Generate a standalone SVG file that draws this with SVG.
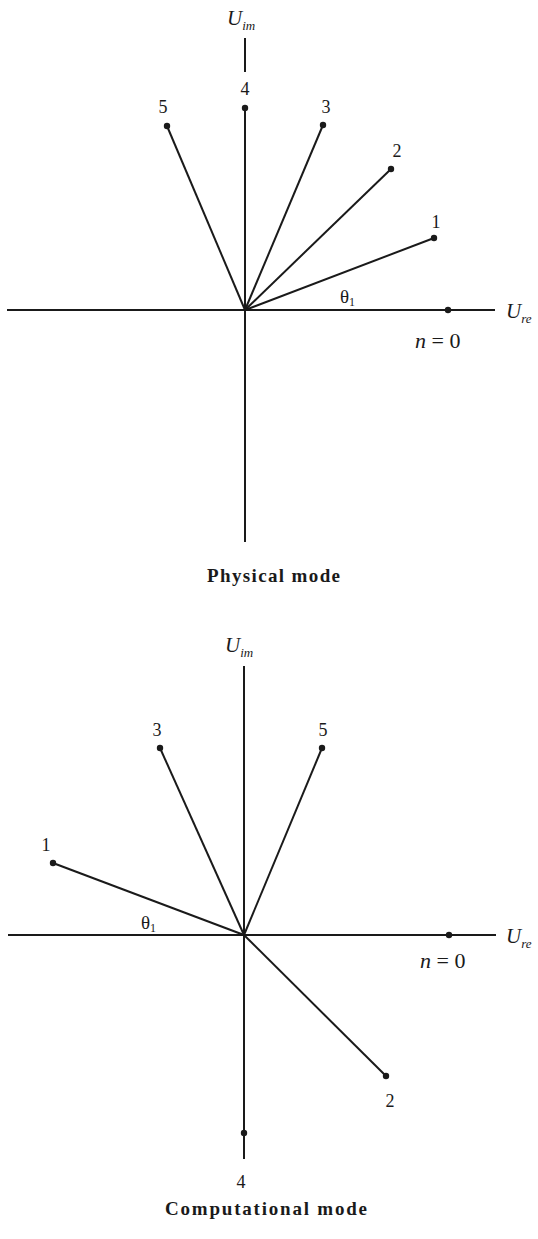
<svg xmlns="http://www.w3.org/2000/svg" width="538" height="1239" viewBox="0 0 538 1239">
<style>
.ax{stroke:#1a1a1a;stroke-width:2;fill:none}
.dot{fill:#1a1a1a}
.num{font-family:"Liberation Serif",serif;font-size:18px;fill:#1a1a1a}
.lab{font-family:"Liberation Serif",serif;font-style:italic;fill:#1a1a1a}
.th{font-family:"Liberation Serif",serif;font-size:19px;fill:#1a1a1a}
.cap{font-family:"Liberation Serif",serif;font-weight:bold;font-size:19px;fill:#1a1a1a}
</style>
<rect width="538" height="1239" fill="#fff"/>
<!-- Top: Physical mode -->
<g id="physical-axes" class="ax">
<line x1="7" y1="310" x2="495" y2="310"/>
<line x1="245" y1="108" x2="245" y2="542"/>
<line x1="245" y1="38" x2="245" y2="72"/>
</g>
<g id="physical-rays" class="ax">
<line x1="245" y1="310" x2="434" y2="238"/>
<line x1="245" y1="310" x2="391" y2="169"/>
<line x1="245" y1="310" x2="323" y2="125"/>
<line x1="245" y1="310" x2="167" y2="126"/>
</g>
<g id="p-n0"><circle class="dot" cx="448" cy="310" r="3.2"/><text class="lab" x="415" y="348" font-size="22">n <tspan font-style="normal">= 0</tspan></text></g>
<g id="p-n1"><circle class="dot" cx="434" cy="238" r="3.2"/><text class="num" x="436" y="228" text-anchor="middle">1</text></g>
<g id="p-n2"><circle class="dot" cx="391" cy="169" r="3.2"/><text class="num" x="397" y="157" text-anchor="middle">2</text></g>
<g id="p-n3"><circle class="dot" cx="323" cy="125" r="3.2"/><text class="num" x="326" y="113" text-anchor="middle">3</text></g>
<g id="p-n4"><circle class="dot" cx="245" cy="108" r="3.2"/><text class="num" x="245" y="95" text-anchor="middle">4</text></g>
<g id="p-n5"><circle class="dot" cx="167" cy="126" r="3.2"/><text class="num" x="163" y="113" text-anchor="middle">5</text></g>
<g id="p-labels">
<text class="lab" x="227" y="25" font-size="21">U<tspan font-size="13" dy="5">im</tspan></text>
<text class="lab" x="506" y="318" font-size="21">U<tspan font-size="13" dy="5">re</tspan></text>
<text class="th" x="340" y="303">θ<tspan font-size="12" dy="3">1</tspan></text>
<text class="cap" x="207" y="582" textLength="133" lengthAdjust="spacing">Physical mode</text>
</g>
<!-- Bottom: Computational mode -->
<g id="comp-axes" class="ax">
<line x1="8" y1="935" x2="496" y2="935"/>
<line x1="244" y1="666" x2="244" y2="1159"/>
</g>
<g id="comp-rays" class="ax">
<line x1="244" y1="935" x2="53" y2="863"/>
<line x1="244" y1="935" x2="386" y2="1076"/>
<line x1="244" y1="935" x2="160" y2="748"/>
<line x1="244" y1="935" x2="322" y2="748"/>
</g>
<g id="c-n0"><circle class="dot" cx="449" cy="935" r="3.2"/><text class="lab" x="420" y="968" font-size="22">n <tspan font-style="normal">= 0</tspan></text></g>
<g id="c-n1"><circle class="dot" cx="53" cy="863" r="3.2"/><text class="num" x="46" y="851" text-anchor="middle">1</text></g>
<g id="c-n2"><circle class="dot" cx="386" cy="1076" r="3.2"/><text class="num" x="390" y="1107" text-anchor="middle">2</text></g>
<g id="c-n3"><circle class="dot" cx="160" cy="748" r="3.2"/><text class="num" x="157" y="736" text-anchor="middle">3</text></g>
<g id="c-n4"><circle class="dot" cx="244" cy="1133" r="3.2"/><text class="num" x="241" y="1188" text-anchor="middle">4</text></g>
<g id="c-n5"><circle class="dot" cx="322" cy="748" r="3.2"/><text class="num" x="323" y="736" text-anchor="middle">5</text></g>
<g id="c-labels">
<text class="lab" x="225" y="652" font-size="21">U<tspan font-size="13" dy="5">im</tspan></text>
<text class="lab" x="506" y="943" font-size="21">U<tspan font-size="13" dy="5">re</tspan></text>
<text class="th" x="141" y="929">θ<tspan font-size="12" dy="3">1</tspan></text>
<text class="cap" x="165" y="1215" textLength="202" lengthAdjust="spacing">Computational mode</text>
</g>
</svg>
